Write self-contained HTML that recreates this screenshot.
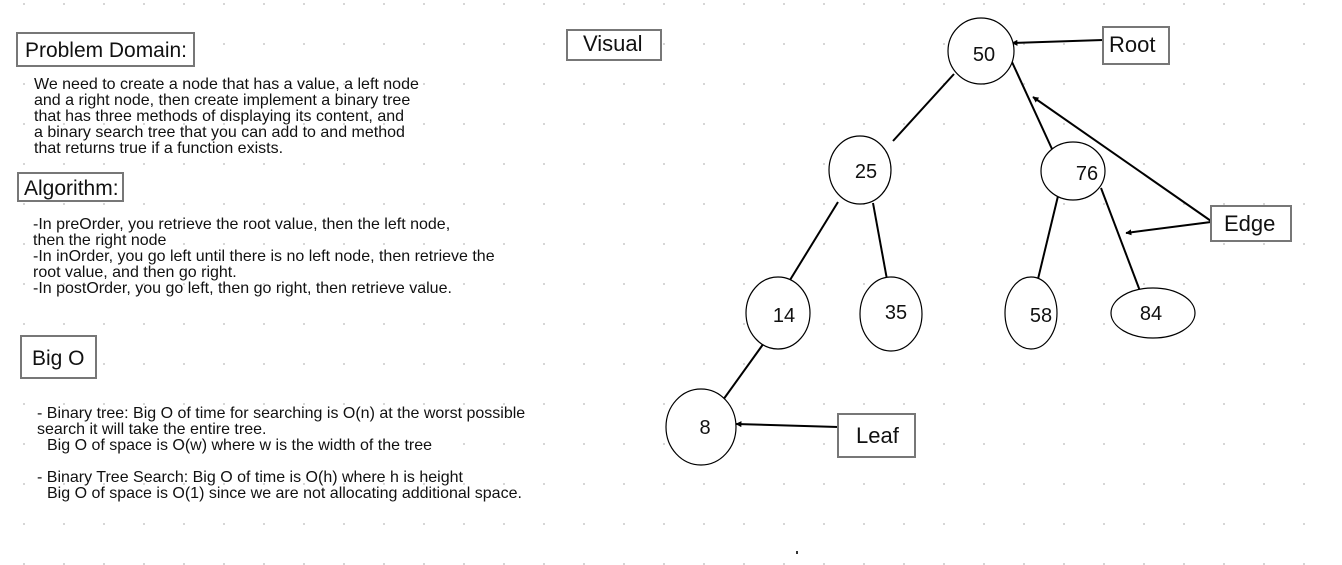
<!DOCTYPE html>
<html><head><meta charset="utf-8"><style>
html,body{margin:0;padding:0;background:#fff;}
svg{display:block;}
text{font-family:"Liberation Sans",Arial,sans-serif;fill:#111;}
</style></head><body>
<svg width="1342" height="565" viewBox="0 0 1342 565" xmlns="http://www.w3.org/2000/svg">
<defs>
<pattern id="g" x="23" y="3" width="40" height="40" patternUnits="userSpaceOnUse">
<rect x="0" y="0" width="2" height="2" fill="#d6d6d6"/>
</pattern>
<marker id="a" viewBox="0 0 10 10" refX="9" refY="5" markerWidth="6" markerHeight="6" orient="auto" markerUnits="userSpaceOnUse">
<path d="M0,0 L10,5 L0,10 Z" fill="#000"/>
</marker>
</defs>
<rect width="1342" height="565" fill="url(#g)"/>

<rect x="17" y="33" width="177" height="33" fill="#fff" stroke="#777" stroke-width="2"/>
<text x="25" y="57" font-size="21" textLength="162" lengthAdjust="spacingAndGlyphs">Problem Domain:</text>
<g font-size="16">
<text x="34" y="89">We need to create a node that has a value, a left node</text>
<text x="34" y="105">and a right node, then create implement a binary tree</text>
<text x="34" y="121">that has three methods of displaying its content, and</text>
<text x="34" y="137">a binary search tree that you can add to and method</text>
<text x="34" y="153">that returns true if a function exists.</text>
</g>
<rect x="18" y="173" width="105" height="28" fill="#fff" stroke="#777" stroke-width="2"/>
<text x="24" y="195" font-size="21">Algorithm:</text>
<g font-size="16">
<text x="33" y="229">-In preOrder, you retrieve the root value, then the left node,</text>
<text x="33" y="245">then the right node</text>
<text x="33" y="261">-In inOrder, you go left until there is no left node, then retrieve the</text>
<text x="33" y="277">root value, and then go right.</text>
<text x="33" y="293">-In postOrder, you go left, then go right, then retrieve value.</text>
</g>
<rect x="21" y="336" width="75" height="42" fill="#fff" stroke="#777" stroke-width="2"/>
<text x="32" y="365" font-size="21">Big O</text>
<g font-size="16">
<text x="37" y="418">- Binary tree: Big O of time for searching is O(n) at the worst possible</text>
<text x="37" y="434">search it will take the entire tree.</text>
<text x="47" y="450">Big O of space is O(w) where w is the width of the tree</text>
<text x="37" y="482">- Binary Tree Search: Big O of time is O(h) where h is height</text>
<text x="47" y="498">Big O of space is O(1) since we are not allocating additional space.</text>
</g>

<rect x="567" y="30" width="94" height="30" fill="#fff" stroke="#777" stroke-width="2"/>
<text x="583" y="51" font-size="22">Visual</text>

<g stroke="#000" stroke-width="2" fill="none">
<line x1="954" y1="74" x2="893" y2="141"/>
<line x1="1012" y1="62" x2="1052" y2="149"/>
<line x1="838" y1="202" x2="790" y2="280"/>
<line x1="873" y1="203" x2="888" y2="285"/>
<line x1="1058" y1="196" x2="1038" y2="279"/>
<line x1="1101" y1="188" x2="1140" y2="291"/>
<line x1="764" y1="343" x2="723" y2="400"/>
<line x1="1103" y1="40" x2="1012" y2="43" marker-end="url(#a)"/>
<line x1="1211" y1="221" x2="1033" y2="97" marker-end="url(#a)"/>
<line x1="1211" y1="222" x2="1126" y2="233" marker-end="url(#a)"/>
<line x1="838" y1="427" x2="736" y2="424" marker-end="url(#a)"/>
</g>

<g fill="#fff" stroke="#000" stroke-width="1.2">
<ellipse cx="981" cy="51" rx="33" ry="33"/>
<ellipse cx="860" cy="170" rx="31" ry="34"/>
<ellipse cx="1073" cy="171" rx="32" ry="29"/>
<ellipse cx="778" cy="313" rx="32" ry="36"/>
<ellipse cx="891" cy="314" rx="31" ry="37"/>
<ellipse cx="1031" cy="313" rx="26" ry="36"/>
<ellipse cx="1153" cy="313" rx="42" ry="25"/>
<ellipse cx="701" cy="427" rx="35" ry="38"/>
</g>
<g font-size="20" text-anchor="middle">
<text x="984" y="61">50</text>
<text x="866" y="178">25</text>
<text x="1087" y="180">76</text>
<text x="784" y="322">14</text>
<text x="896" y="319">35</text>
<text x="1041" y="322">58</text>
<text x="1151" y="320">84</text>
<text x="705" y="434">8</text>
</g>

<rect x="1103" y="27" width="66" height="37" fill="#fff" stroke="#777" stroke-width="2"/>
<text x="1109" y="52" font-size="22">Root</text>
<rect x="1211" y="206" width="80" height="35" fill="#fff" stroke="#777" stroke-width="2"/>
<text x="1224" y="231" font-size="22">Edge</text>
<rect x="838" y="414" width="77" height="43" fill="#fff" stroke="#777" stroke-width="2"/>
<text x="856" y="443" font-size="22">Leaf</text>
<rect x="796" y="551" width="2" height="3" fill="#333"/>
</svg>
</body></html>
